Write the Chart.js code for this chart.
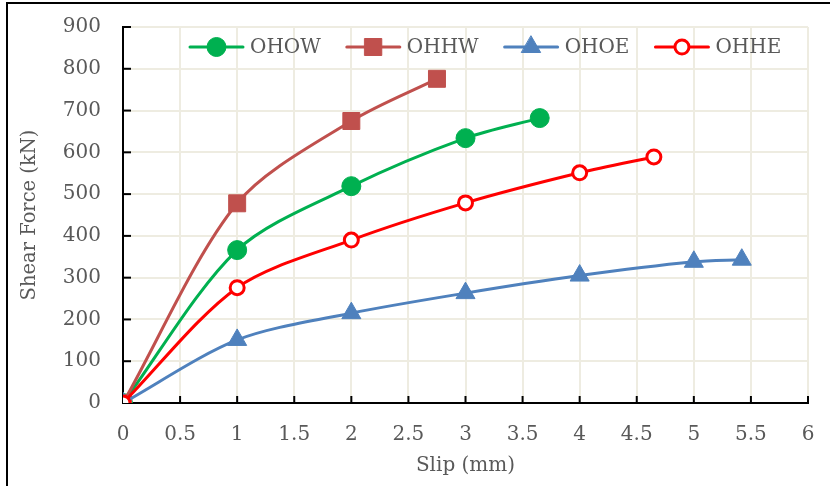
<!DOCTYPE html>
<html>
<head>
<meta charset="utf-8">
<script src="https://cdn.jsdelivr.net/npm/chart.js@4.4.0/dist/chart.umd.min.js"></script>
<style>
  html, body { margin: 0; padding: 0; background: #fff; }
  #wrap { position: relative; width: 830px; height: 486px; overflow: hidden; }
  #frame { position: absolute; left: 6px; top: 2px; width: 840px; height: 500px;
           border-left: 2px solid #000; border-top: 2px solid #000; pointer-events: none; }
  canvas { position: absolute; left: 0; top: 0; }
</style>
</head>
<body>
<div id="wrap">
  <canvas id="myChart" width="830" height="486"></canvas>
  <div id="frame"></div>
</div>
<script>
// slip (mm) / shear force (kN) for each specimen
const ohowSlip = [0, 1, 2, 3, 3.65];
const ohowForce = [0, 366, 519, 634, 682];

const ohhwSlip = [0, 1, 2, 2.75];
const ohhwForce = [0, 478, 675, 776];

const ohoeSlip = [0, 1, 2, 3, 4, 5, 5.42];
const ohoeForce = [0, 151, 215, 263, 305, 338, 343];

const ohheSlip = [0, 1, 2, 3, 4, 4.65];
const ohheForce = [0, 276, 390, 479, 551, 589];

const seriesNames = ['OHOW', 'OHHW', 'OHOE', 'OHHE'];

const xMin = 0, xMax = 6, xStep = 0.5;
const yMin = 0, yMax = 900, yStep = 100;

const toPoints = (xs, ys) => xs.map((x, i) => ({x: x, y: ys[i]}));

const textGrey = '#595959';
const fontFamily = '"DejaVu Serif", serif';

Chart.defaults.font.family = fontFamily;
Chart.defaults.color = textGrey;

// draw one marker (used by the legend)
function drawMarker(ctx, style, x, y, r, fill, stroke, lw) {
  ctx.beginPath();
  if (style === 'circle') {
    ctx.arc(x, y, r, 0, Math.PI * 2);
  } else if (style === 'rect') {
    const s = r * Math.SQRT1_2;
    ctx.rect(x - s, y - s, 2 * s, 2 * s);
  } else if (style === 'triangle') {
    ctx.moveTo(x, y - r);
    ctx.lineTo(x + r * Math.sin(Math.PI * 2 / 3), y - r * Math.cos(Math.PI * 2 / 3));
    ctx.lineTo(x - r * Math.sin(Math.PI * 2 / 3), y - r * Math.cos(Math.PI * 2 / 3));
    ctx.closePath();
  }
  ctx.fillStyle = fill;
  ctx.fill();
  ctx.lineWidth = lw;
  ctx.strokeStyle = stroke;
  ctx.stroke();
}

// legend inside the plot: line + marker + name
const topLegend = {
  id: 'topLegend',
  afterDraw(chart) {
    const ctx = chart.ctx;
    const area = chart.chartArea;
    ctx.save();
    ctx.font = '20px ' + fontFamily;
    ctx.textBaseline = 'middle';
    const lineLen = 53, gap = 7, spacing = 26;
    let x = area.left + 67;
    const y = area.top + 20;
    chart.data.datasets.forEach(ds => {
      ctx.beginPath();
      ctx.moveTo(x, y);
      ctx.lineTo(x + lineLen, y);
      ctx.lineWidth = ds.borderWidth;
      ctx.strokeStyle = ds.borderColor;
      ctx.lineCap = 'round';
      ctx.stroke();
      drawMarker(ctx, ds.pointStyle, x + lineLen / 2, y, ds.pointRadius,
        ds.pointBackgroundColor, ds.pointBorderColor, ds.pointBorderWidth);
      ctx.fillStyle = textGrey;
      ctx.fillText(ds.label, x + lineLen + gap, y + 1);
      x += lineLen + gap + ctx.measureText(ds.label).width + spacing;
    });
    ctx.restore();
  }
};

// Excel style tick marks pointing into the plot
const insideTicks = {
  id: 'insideTicks',
  beforeDatasetsDraw(chart) {
    const ctx = chart.ctx;
    const xs = chart.scales.x, ys = chart.scales.y;
    ctx.save();
    ctx.strokeStyle = '#000';
    ctx.lineWidth = 2;
    xs.ticks.forEach(t => {
      const px = xs.getPixelForValue(t.value);
      ctx.beginPath();
      ctx.moveTo(px, ys.bottom);
      ctx.lineTo(px, ys.bottom - 7);
      ctx.stroke();
    });
    ys.ticks.forEach(t => {
      const py = ys.getPixelForValue(t.value);
      ctx.beginPath();
      ctx.moveTo(xs.left, py);
      ctx.lineTo(xs.left + 8, py);
      ctx.stroke();
    });
    ctx.restore();
  }
};

const data = {
  datasets: [{
    label: seriesNames[0],
    data: toPoints(ohowSlip, ohowForce),
    borderColor: '#00B050',
    borderWidth: 3,
    pointStyle: 'circle',
    pointRadius: 9.5,
    pointBackgroundColor: '#00B050',
    pointBorderColor: '#00B050',
    pointBorderWidth: 1,
    order: 4
  }, {
    label: seriesNames[1],
    data: toPoints(ohhwSlip, ohhwForce),
    borderColor: '#C0504D',
    borderWidth: 3,
    pointStyle: 'rect',
    pointRadius: 12,
    pointBackgroundColor: '#C0504D',
    pointBorderColor: '#C0504D',
    pointBorderWidth: 1,
    order: 3
  }, {
    label: seriesNames[2],
    data: toPoints(ohoeSlip, ohoeForce),
    borderColor: '#4F81BD',
    borderWidth: 3,
    pointStyle: 'triangle',
    pointRadius: 11,
    pointBackgroundColor: '#4F81BD',
    pointBorderColor: '#4F81BD',
    pointBorderWidth: 1,
    order: 2
  }, {
    label: seriesNames[3],
    data: toPoints(ohheSlip, ohheForce),
    borderColor: '#FF0000',
    borderWidth: 3,
    pointStyle: 'circle',
    pointRadius: 7,
    pointBackgroundColor: '#FFFFFF',
    pointBorderColor: '#FF0000',
    pointBorderWidth: 3,
    order: 1
  }]
};

const config = {
  type: 'line',
  data,
  options: {
    responsive: false,
    animation: false,
    events: [],
    layout: {padding: {left: 0, right: 22, top: 27, bottom: 0}},
    elements: {line: {tension: 0.3}},
    plugins: {
      legend: {display: false},
      tooltip: {enabled: false}
    },
    scales: {
      x: {
        type: 'linear',
        min: xMin,
        max: xMax,
        ticks: {stepSize: xStep, padding: 20, color: textGrey, font: {size: 20},
                callback: v => String(v)},
        grid: {color: '#EEECE1', lineWidth: 2, drawTicks: false},
        border: {color: '#000', width: 2},
        title: {display: true, text: 'Slip (mm)', color: textGrey, font: {size: 20}, padding: {top: 0, bottom: 8}},
        afterFit(scale) {
          scale.height = 83;
          scale.paddingLeft = 0;
          scale.paddingRight = 0;
        }
      },
      y: {
        type: 'linear',
        min: yMin,
        max: yMax,
        ticks: {stepSize: yStep, padding: 22, color: textGrey, font: {size: 20}},
        grid: {color: '#EEECE1', lineWidth: 2, drawTicks: false},
        border: {color: '#000', width: 2},
        title: {display: true, text: 'Shear Force (kN)', color: textGrey, font: {size: 19.5}, padding: {top: 18, bottom: 0}},
        afterFit(scale) {
          scale.width = 123;
          scale.paddingTop = 0;
          scale.paddingBottom = 0;
        }
      }
    }
  },
  plugins: [insideTicks, topLegend]
};

const myChart = new Chart(document.getElementById('myChart'), config);
</script>
</body>
</html>
